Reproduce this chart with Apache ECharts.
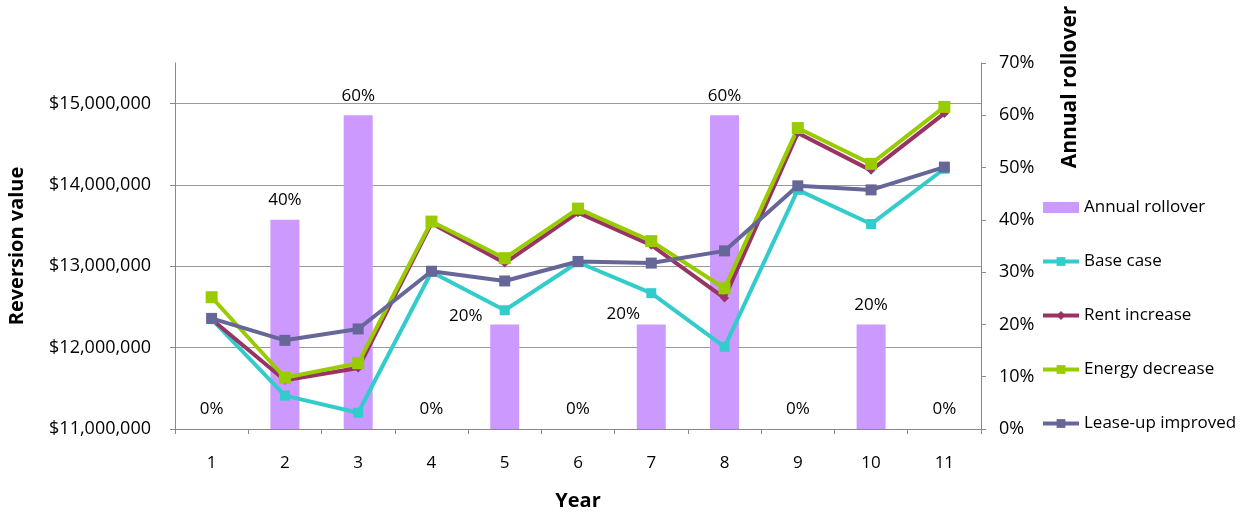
<!doctype html>
<html lang="en">
<head>
    <meta charset="UTF-8" />
    <title>Reversion value</title>
    <style>
        html, body { margin: 0; padding: 0; background: #fff; }
        #chart { width: 1247px; height: 514px; }
    </style>
</head>
<body>
    <div id="chart"></div>
    <script src="https://cdn.jsdelivr.net/npm/echarts@6/dist/echarts.min.js"></script>
    <script type="text/javascript">
        var years = ['1', '2', '3', '4', '5', '6', '7', '8', '9', '10', '11'];
        var rollover = [0, 40, 60, 0, 20, 0, 20, 60, 0, 20, 0];
        var baseCase = [12350000, 11410000, 11200000, 12930000, 12460000, 13050000, 12670000, 12010000, 13940000, 13520000, 14200000];
        var rentIncrease = [12350000, 11600000, 11750000, 13530000, 13040000, 13660000, 13260000, 12610000, 14640000, 14180000, 14880000];
        var energyDecrease = [12620000, 11630000, 11810000, 13550000, 13100000, 13710000, 13310000, 12730000, 14700000, 14260000, 14960000];
        var leaseUp = [12360000, 12090000, 12230000, 12940000, 12820000, 13060000, 13040000, 13190000, 13990000, 13940000, 14220000];
        var leftTicks = [11000000, 12000000, 13000000, 14000000, 15000000];

        var font = 'Open Sans';
        var chart = echarts.init(document.getElementById('chart'));

        // Excel pushed two of the 20% labels off to the left
        var labelShift = { 4: [-39, 11], 6: [-28, 9] };

        function money(v) {
            return '$' + String(Math.round(v)).replace(/\B(?=(\d{3})+(?!\d))/g, ',');
        }

        function lineSeries(name, data, color, symbol, size) {
            return {
                name: name,
                type: 'line',
                yAxisIndex: 0,
                data: data,
                symbol: symbol,
                symbolSize: size,
                lineStyle: { color: color, width: 4 },
                itemStyle: { color: color },
                emphasis: { disabled: true },
                z: 3
            };
        }

        var option = {
            backgroundColor: '#fff',
            animation: false,
            textStyle: { fontFamily: font },
            grid: { left: 175, right: 266, top: 63, bottom: 85, outerBoundsMode: 'none' },
            legend: {
                orient: 'vertical',
                left: 1041,
                top: 199,
                padding: 0,
                itemWidth: 36,
                itemHeight: 11,
                itemGap: 37,
                lineStyle: { width: 4 },
                textStyle: { fontSize: 17, color: '#000', fontFamily: font },
                data: [
                    { name: 'Annual rollover', icon: 'rect' },
                    'Base case', 'Rent increase', 'Energy decrease', 'Lease-up improved'
                ]
            },
            xAxis: {
                type: 'category',
                data: years,
                boundaryGap: true,
                name: 'Year',
                nameLocation: 'middle',
                nameGap: 62,
                nameTextStyle: { fontSize: 20, fontWeight: 'bold', color: '#000' },
                axisLine: { lineStyle: { color: '#888', width: 1 } },
                axisTick: { show: true, length: 5, lineStyle: { color: '#888' } },
                axisLabel: { margin: 26, fontSize: 17, color: '#000' },
                splitLine: { show: false }
            },
            yAxis: [{
                type: 'value',
                min: 11000000,
                max: 15500000,
                interval: 1000000,
                name: 'Reversion value',
                nameLocation: 'middle',
                nameGap: 148,
                nameTextStyle: { fontSize: 20, fontWeight: 'bold', color: '#000' },
                axisLine: { show: true, lineStyle: { color: '#888' } },
                axisTick: { show: true, length: 5, inside: false, lineStyle: { color: '#888' }, customValues: leftTicks },
                axisLabel: { margin: 24, fontSize: 18, color: '#000', formatter: money, customValues: leftTicks },
                splitLine: { show: true, lineStyle: { color: '#999', width: 1 } }
            }, {
                type: 'value',
                min: 0,
                max: 70,
                interval: 10,
                position: 'right',
                axisLine: { show: true, lineStyle: { color: '#888' } },
                axisTick: { show: true, length: 5, lineStyle: { color: '#888' } },
                axisLabel: { margin: 18, fontSize: 18, color: '#000', formatter: '{value}%' },
                splitLine: { show: false }
            }],
            graphic: [{
                type: 'text',
                x: 1070,
                y: 87,
                rotation: Math.PI / 2,
                style: {
                    text: 'Annual rollover',
                    fontSize: 21,
                    fontWeight: 'bold',
                    fontFamily: font,
                    fill: '#000',
                    align: 'center',
                    verticalAlign: 'middle'
                }
            }],
            series: [{
                name: 'Annual rollover',
                type: 'bar',
                yAxisIndex: 1,
                barWidth: 29,
                itemStyle: { color: '#CC99FF' },
                emphasis: { disabled: true },
                z: 1,
                data: rollover.map(function (v, i) {
                    var item = { value: v };
                    if (labelShift[i]) {
                        item.label = { offset: labelShift[i] };
                    }
                    return item;
                }),
                label: {
                    show: true,
                    position: 'top',
                    distance: 11,
                    fontSize: 17,
                    color: '#000',
                    formatter: '{c}%'
                }
            },
                lineSeries('Base case', baseCase, '#33CCCC', 'rect', 10),
                lineSeries('Rent increase', rentIncrease, '#993366', 'diamond', 9),
                lineSeries('Energy decrease', energyDecrease, '#99CC00', 'rect', 12),
                lineSeries('Lease-up improved', leaseUp, '#666699', 'rect', 11)
            ]
        };

        chart.setOption(option);
    </script>
</body>
</html>
